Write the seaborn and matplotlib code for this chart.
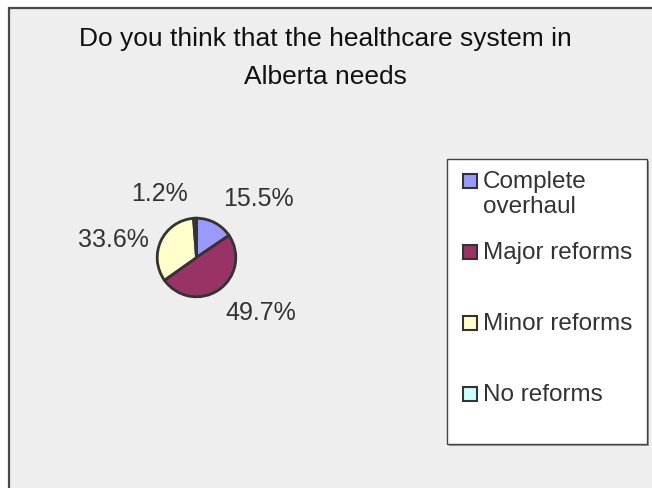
import matplotlib
matplotlib.use("Agg")
import matplotlib.pyplot as plt
from matplotlib.patches import Rectangle
import seaborn as sns

# Survey answers and their shares (percent)
categories = ["Complete overhaul", "Major reforms", "Minor reforms", "No reforms"]
legend_labels = ["Complete\noverhaul", "Major reforms", "Minor reforms", "No reforms"]
shares = [15.5, 49.7, 33.6, 1.2]
slice_colors = ["#9999FF", "#993366", "#FFFFCC", "#CCFFFF"]
title_text = "Do you think that the healthcare system in\nAlberta needs"

sns.set_theme(style="white")
plt.rcParams["font.family"] = ["Liberation Sans", "DejaVu Sans"]

W, H = 652, 489
fig = plt.figure(figsize=(W / 100, H / 100), dpi=100, facecolor="white")


def fx(px):
    return px / W


def fy(py):
    return 1 - py / H


# Grey chart area with a dark frame (runs past the right and bottom edges)
fig.patches.append(Rectangle((fx(9), fy(520)), (720 - 9) / W, (520 - 9) / H,
                             transform=fig.transFigure, facecolor="#EEEEEE",
                             edgecolor="#4A4A4A", linewidth=1.6, zorder=-5))

# Title
fig.text(fx(325), fy(27), title_text, ha="center", va="top",
         fontsize=19, color="#111111", linespacing=1.72)

# Pie
cx, cy, r = 196.5, 258.5, 40.5
ax = fig.add_axes([fx(cx - r), fy(cy + r), 2 * r / W, 2 * r / H])
ax.set_zorder(5)
ax.patch.set_visible(False)
palette = sns.color_palette(slice_colors)
wedges, _ = ax.pie(shares, colors=palette, startangle=90, counterclock=False,
                   radius=0.97,
                   wedgeprops=dict(edgecolor="#333333", linewidth=2.0))
ax.set_xlim(-1, 1)
ax.set_ylim(-1, 1)
ax.set_aspect("equal")
ax.axis("off")

# Percentage labels around the pie (offsets in pie-radius units)
label_offsets = [(1.52, 1.296), (1.58, -1.519), (-2.062, 0.284), (-0.914, 1.42)]
for value, (dx, dy) in zip(shares, label_offsets):
    ax.text(dx, dy, f"{value:.1f}%", ha="center", va="baseline",
            fontsize=18, color="#333333", clip_on=False)

# Legend box with shadow
lx0, ly0, lx1, ly1 = 447, 160, 647, 445
fig.patches.append(Rectangle((fx(lx0 + 2), fy(ly1 + 2)), (lx1 - lx0) / W, (ly1 - ly0) / H,
                             transform=fig.transFigure, facecolor="#9A9A9A",
                             edgecolor="none", zorder=1))
fig.patches.append(Rectangle((fx(lx0), fy(ly1)), (lx1 - lx0) / W, (ly1 - ly0) / H,
                             transform=fig.transFigure, facecolor="white",
                             edgecolor="#444444", linewidth=1.0, zorder=2))

m = 14
for i, (label, color) in enumerate(zip(legend_labels, palette)):
    yc = 181.5 + 71 * i
    fig.patches.append(Rectangle((fx(463), fy(yc + m / 2)), m / W, m / H,
                                 transform=fig.transFigure, facecolor=color,
                                 edgecolor="#333333", linewidth=1.5, zorder=3))
    fig.text(fx(483), fy(yc - 10.9), label, ha="left", va="top",
             fontsize=17.5, color="#333333", linespacing=1.22, zorder=4)

fig.savefig("out.png", dpi=100, facecolor="white")
